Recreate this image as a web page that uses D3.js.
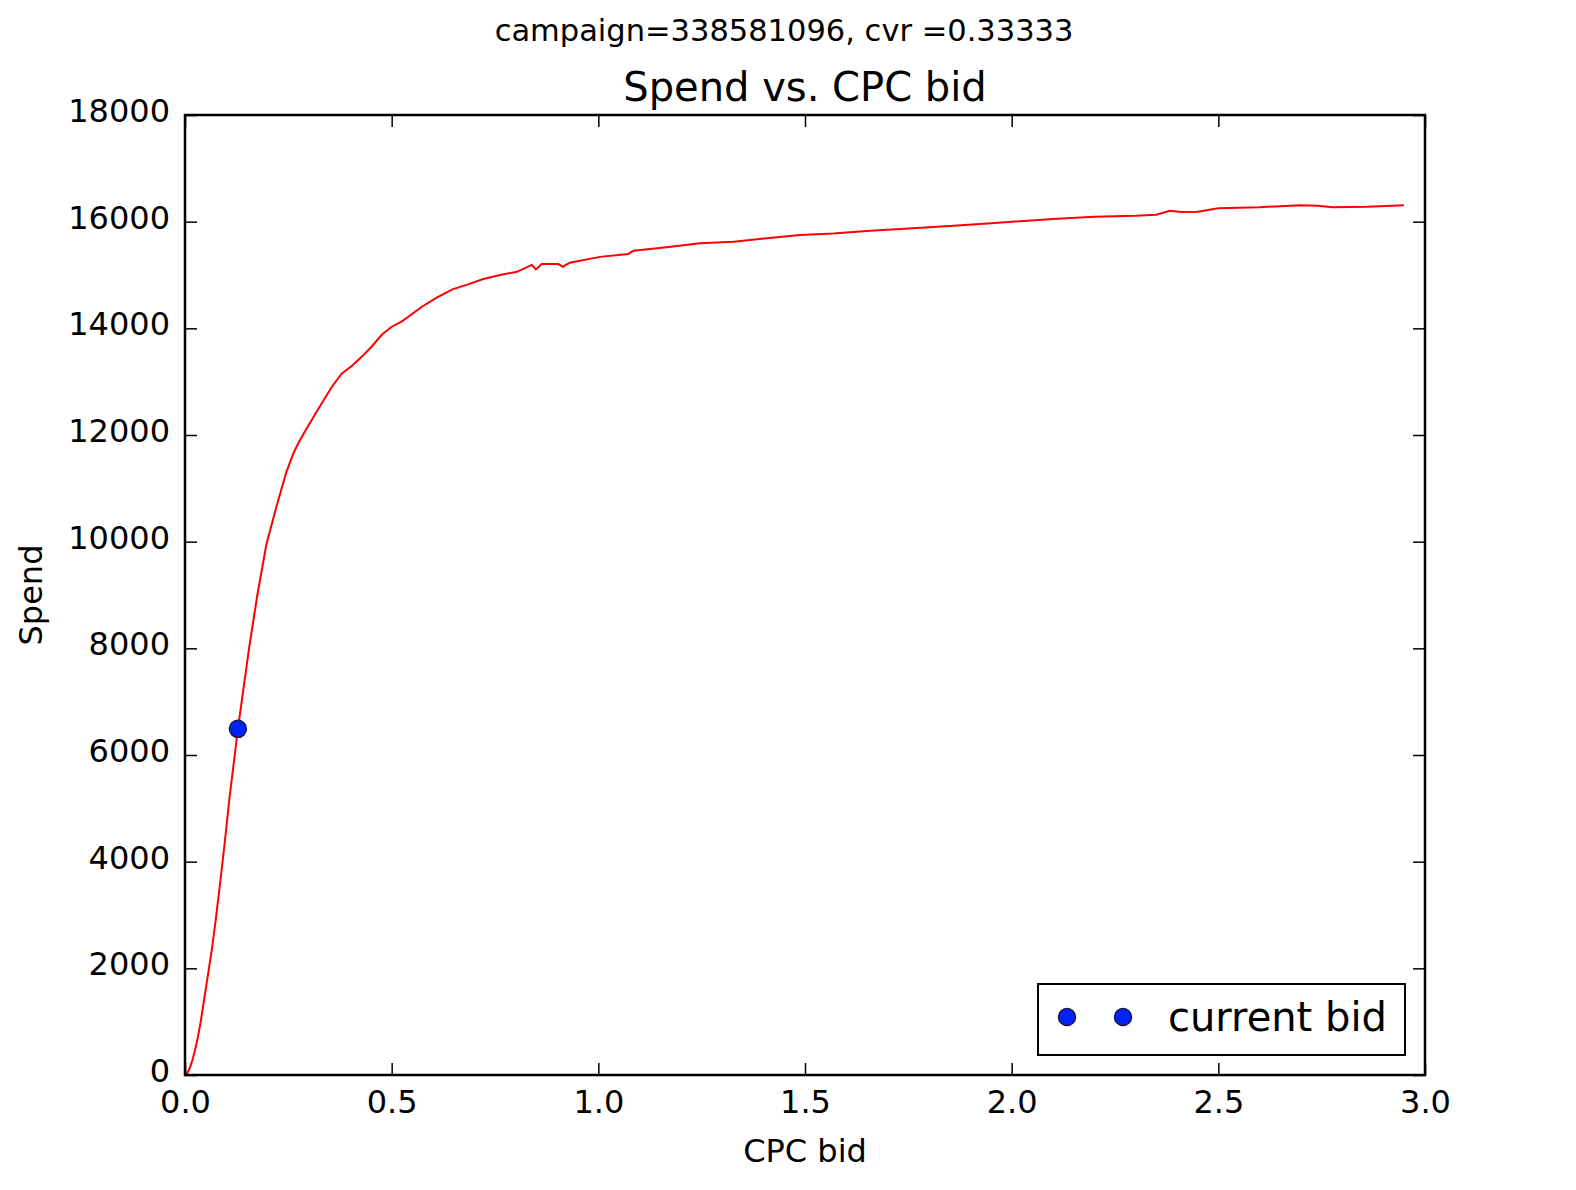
<!DOCTYPE html>
<html>
<head>
<meta charset="utf-8">
<script src="https://cdn.jsdelivr.net/npm/d3@7"></script>
<style>
  body { margin: 0; background: #fff; }
  text { font-family: "DejaVu Sans", sans-serif; fill: #000; }
</style>
</head>
<body>
<div id="chart"></div>
<script>
// Spend curve (CPC bid -> spend).
var cpcBid = [0, 0.006, 0.012, 0.018, 0.024, 0.031, 0.038, 0.051, 0.065, 0.075,
  0.085, 0.096, 0.107, 0.128, 0.155, 0.175, 0.197, 0.221, 0.245, 0.262, 0.275,
  0.289, 0.318, 0.355, 0.379, 0.404, 0.428, 0.452, 0.476, 0.5, 0.525, 0.574,
  0.61, 0.647, 0.683, 0.72, 0.762, 0.803, 0.839, 0.849, 0.863, 0.903, 0.914,
  0.931, 1.004, 1.073, 1.085, 1.165, 1.246, 1.327, 1.407, 1.488, 1.568, 1.649,
  1.75, 1.85, 1.95, 2.0, 2.1, 2.2, 2.3, 2.35, 2.383, 2.41, 2.45, 2.5, 2.6,
  2.698, 2.74, 2.777, 2.86, 2.949];
var spend = [0, 40, 140, 280, 460, 700, 1000, 1650, 2350, 2950,
  3600, 4350, 5150, 6490, 8000, 9000, 9950, 10650, 11300, 11650, 11860,
  12050, 12430, 12900, 13150, 13300, 13470, 13660, 13880, 14030, 14130, 14410,
  14580, 14730, 14820, 14920, 15000, 15060, 15190, 15105, 15205, 15205, 15155,
  15230, 15340, 15395, 15455, 15520, 15595, 15625, 15690, 15750, 15780, 15825,
  15870, 15920, 15970, 16000, 16050, 16090, 16110, 16130, 16205, 16180, 16185, 16250, 16270,
  16310, 16300, 16270, 16280, 16310];

// Current bid marker.
var currentBid = [0.128];
var currentSpend = [6490];

// Tick values.
var xTicks = [0, 0.5, 1.0, 1.5, 2.0, 2.5, 3.0];
var yTicks = [0, 2000, 4000, 6000, 8000, 10000, 12000, 14000, 16000, 18000];

var suptitle = "campaign=338581096, cvr =0.33333";
var title = "Spend vs. CPC bid";
var xLabel = "CPC bid";
var yLabel = "Spend";
var legendLabel = "current bid";

// Dimensions of the figure and the axes box.
var width_fig = 1576, height_fig = 1190;
var m = { left: 185, right: 1425, top: 115, bottom: 1075 };

var svg = d3.select("#chart").append("svg")
    .attr("width", width_fig)
    .attr("height", height_fig);

var x = d3.scaleLinear().domain([0, 3]).range([m.left, m.right]);
var y = d3.scaleLinear().domain([0, 18000]).range([m.bottom, m.top]);

// Inward ticks on all four sides, matplotlib classic style.
var xAxis = svg.append("g")
    .attr("transform", "translate(0," + m.bottom + ")")
    .call(d3.axisBottom(x).tickValues(xTicks).tickSize(-12).tickPadding(15)
      .tickFormat(d3.format(".1f")));
var yAxis = svg.append("g")
    .attr("transform", "translate(" + m.left + ",0)")
    .call(d3.axisLeft(y).tickValues(yTicks).tickSize(-12).tickPadding(15)
      .tickFormat(d3.format("d")));
var xTop = svg.append("g")
    .attr("transform", "translate(0," + m.top + ")")
    .call(d3.axisTop(x).tickValues(xTicks).tickSize(-12).tickFormat(""));
var yRight = svg.append("g")
    .attr("transform", "translate(" + m.right + ",0)")
    .call(d3.axisRight(y).tickValues(yTicks).tickSize(-12).tickFormat(""));

svg.selectAll(".domain").remove();
svg.selectAll(".tick line")
    .attr("stroke", "#000")
    .attr("stroke-width", 1.5);
xAxis.selectAll("text")
    .attr("font-size", 32)
    .attr("font-family", "DejaVu Sans")
    .attr("fill", "#000");
yAxis.selectAll("text")
    .attr("font-size", 32)
    .attr("font-family", "DejaVu Sans")
    .attr("fill", "#000")
    .attr("dy", "0.2em");

// The spend curve.
var line = d3.line()
    .x(function(d, i) { return x(cpcBid[i]); })
    .y(function(d) { return y(d); });

svg.append("path")
    .datum(spend)
    .attr("d", line)
    .attr("fill", "none")
    .attr("stroke", "#ff0000")
    .attr("stroke-width", 2);

svg.selectAll(".bid")
    .data(currentBid)
    .enter().append("circle")
    .attr("class", "bid")
    .attr("cx", function(d) { return x(d); })
    .attr("cy", function(d, i) { return y(currentSpend[i]); })
    .attr("r", 8.5)
    .attr("fill", "#0022ff")
    .attr("stroke", "#1a1a48")
    .attr("stroke-width", 1.5);

// Axes frame on top of everything.
svg.append("rect")
    .attr("x", m.left)
    .attr("y", m.top)
    .attr("width", m.right - m.left)
    .attr("height", m.bottom - m.top)
    .attr("fill", "none")
    .attr("stroke", "#000")
    .attr("stroke-width", 2.5);

// Titles and axis labels.
svg.append("text")
    .attr("x", 784)
    .attr("y", 41)
    .attr("text-anchor", "middle")
    .attr("font-size", 30.5)
    .text(suptitle);
svg.append("text")
    .attr("x", (m.left + m.right) / 2)
    .attr("y", 101)
    .attr("text-anchor", "middle")
    .attr("font-size", 40)
    .text(title);
svg.append("text")
    .attr("x", (m.left + m.right) / 2)
    .attr("y", 1162)
    .attr("text-anchor", "middle")
    .attr("font-size", 32)
    .text(xLabel);
svg.append("text")
    .attr("transform", "translate(42," + (m.top + m.bottom) / 2 + ") rotate(-90)")
    .attr("text-anchor", "middle")
    .attr("font-size", 32)
    .text(yLabel);

// Legend, lower right, two marker points like matplotlib's numpoints=2.
var legend = svg.append("g")
    .attr("transform", "translate(1038,984)");
legend.append("rect")
    .attr("width", 367)
    .attr("height", 71)
    .attr("fill", "#fff")
    .attr("stroke", "#000")
    .attr("stroke-width", 2);
legend.selectAll("circle")
    .data([29, 85])
    .enter().append("circle")
    .attr("cx", function(d) { return d; })
    .attr("cy", 33)
    .attr("r", 8.5)
    .attr("fill", "#0022ff")
    .attr("stroke", "#1a1a48")
    .attr("stroke-width", 1.5);
legend.append("text")
    .attr("x", 130)
    .attr("y", 47)
    .attr("font-size", 40)
    .text(legendLabel);
</script>
</body>
</html>
